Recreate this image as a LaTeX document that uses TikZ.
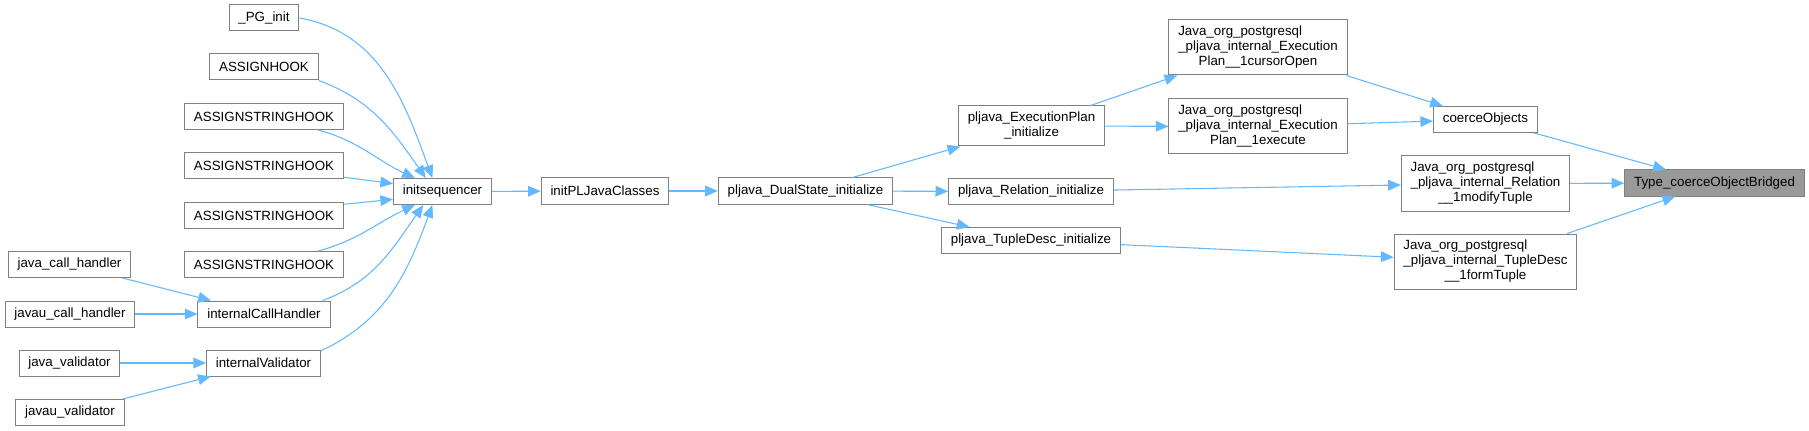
\documentclass[tikz,border=0pt]{standalone}
\usepackage{fontspec}
\newfontfamily\dxfont{Liberation Sans}
\usetikzlibrary{arrows.meta}
\definecolor{edgeblue}{HTML}{63B8FF}
\definecolor{boxline}{HTML}{808080}
\definecolor{boxhl}{HTML}{999999}
\newcommand{\lbllines}[2]{\begin{tabular}{@{}l@{}}#1\\\multicolumn{1}{@{}c@{}}{#2}\end{tabular}}
\begin{document}
\begin{tikzpicture}[x=.75pt,y=-.75pt,
  fnbox/.style={draw=boxline,fill=white,line width=.75pt,font=\dxfont\fontsize{10}{11}\selectfont,inner xsep=7pt,inner ysep=2pt,minimum height=19.5pt},
  fnhl/.style={fnbox,fill=boxhl},
  callarrow/.style={draw=edgeblue,line width=.8pt,-{Triangle[length=9.5pt,width=8pt]}}]
\useasboundingbox (0,0) rectangle (1809,431);
\node[fnbox] (pginit) at (264,18) {\_PG\_init};
\node[fnbox] (assignhook) at (264,67) {ASSIGNHOOK};
\node[fnbox] (ashA) at (264,116.5) {ASSIGNSTRINGHOOK};
\node[fnbox] (ashB) at (264,166) {ASSIGNSTRINGHOOK};
\node[fnbox] (ashC) at (264,215.5) {ASSIGNSTRINGHOOK};
\node[fnbox] (ashD) at (264,264.5) {ASSIGNSTRINGHOOK};
\node[fnbox] (javacall) at (69.5,264.5) {java\_call\_handler};
\node[fnbox] (javaucall) at (70,314) {javau\_call\_handler};
\node[fnbox] (intcall) at (264,314) {internalCallHandler};
\node[fnbox] (javaval) at (69.5,363) {java\_validator};
\node[fnbox] (intval) at (263.5,363) {internalValidator};
\node[fnbox] (javauval) at (70,412.5) {javau\_validator};
\node[fnbox] (initseq) at (442.5,191.5) {initsequencer};
\node[fnbox] (initpl) at (605,191) {initPLJavaClasses};
\node[fnbox] (dualstate) at (805.5,191) {pljava\_DualState\_initialize};
\node[fnbox,minimum height=30pt] (execinit) at (1031.5,126) {\lbllines{pljava\_ExecutionPlan}{\_initialize}};
\node[fnbox] (relinit) at (1031,191.5) {pljava\_Relation\_initialize};
\node[fnbox] (tupinit) at (1031,240.5) {pljava\_TupleDesc\_initialize};
\node[fnbox,minimum height=41.25pt] (cursoropen) at (1258,47.5) {\lbllines{Java\_org\_postgresql\\\_pljava\_internal\_Execution}{Plan\_\_1cursorOpen}};
\node[fnbox,minimum height=41.25pt] (execute) at (1258,126.5) {\lbllines{Java\_org\_postgresql\\\_pljava\_internal\_Execution}{Plan\_\_1execute}};
\node[fnbox] (coerce) at (1485.5,119.5) {coerceObjects};
\node[fnbox,minimum height=41.25pt] (modtuple) at (1485.5,183.5) {\lbllines{Java\_org\_postgresql\\\_pljava\_internal\_Relation}{\_\_1modifyTuple}};
\node[fnbox,minimum height=41.25pt] (formtuple) at (1485.5,261.5) {\lbllines{Java\_org\_postgresql\\\_pljava\_internal\_TupleDesc}{\_\_1formTuple}};
\node[fnhl] (bridged) at (1714.5,183) {Type\_coerceObjectBridged};
% callers of initsequencer
\draw[callarrow] (pginit.east) to[out=-10,in=110] (initseq.127);
\draw[callarrow] (assignhook.south east) to[out=-20,in=125] (initseq.141);
\draw[callarrow] (ashA.-14) to[out=-15,in=155] (initseq.154);
\draw[callarrow] (ashB.-8) -- (initseq.171);
\draw[callarrow] (ashC.8) -- (initseq.189);
\draw[callarrow] (ashD.14) to[out=15,in=-155] (initseq.206);
\draw[callarrow] (intcall.13) to[out=20,in=-125] (initseq.215);
\draw[callarrow] (intval.12) to[out=25,in=-110] (initseq.233);
\draw[callarrow] (javacall) -- (intcall);
\draw[callarrow] (javaucall) -- (intcall);
\draw[callarrow] (javaval) -- (intval);
\draw[callarrow] (javauval) -- (intval);
% main chain
\draw[callarrow] (initseq) -- (initpl);
\draw[callarrow] (initpl) -- (dualstate);
\draw[callarrow] (dualstate) -- (execinit);
\draw[callarrow] (dualstate) -- (relinit);
\draw[callarrow] (dualstate) -- (tupinit);
\draw[callarrow] (execinit) -- (cursoropen);
\draw[callarrow] (execinit) -- (execute);
\draw[callarrow] (relinit) -- (modtuple);
\draw[callarrow] (tupinit) -- (formtuple);
\draw[callarrow] (cursoropen) -- (coerce);
\draw[callarrow] (execute) -- (coerce);
\draw[callarrow] (coerce) -- (bridged);
\draw[callarrow] (modtuple) -- (bridged);
\draw[callarrow] (formtuple) -- (bridged);
\end{tikzpicture}
\end{document}
